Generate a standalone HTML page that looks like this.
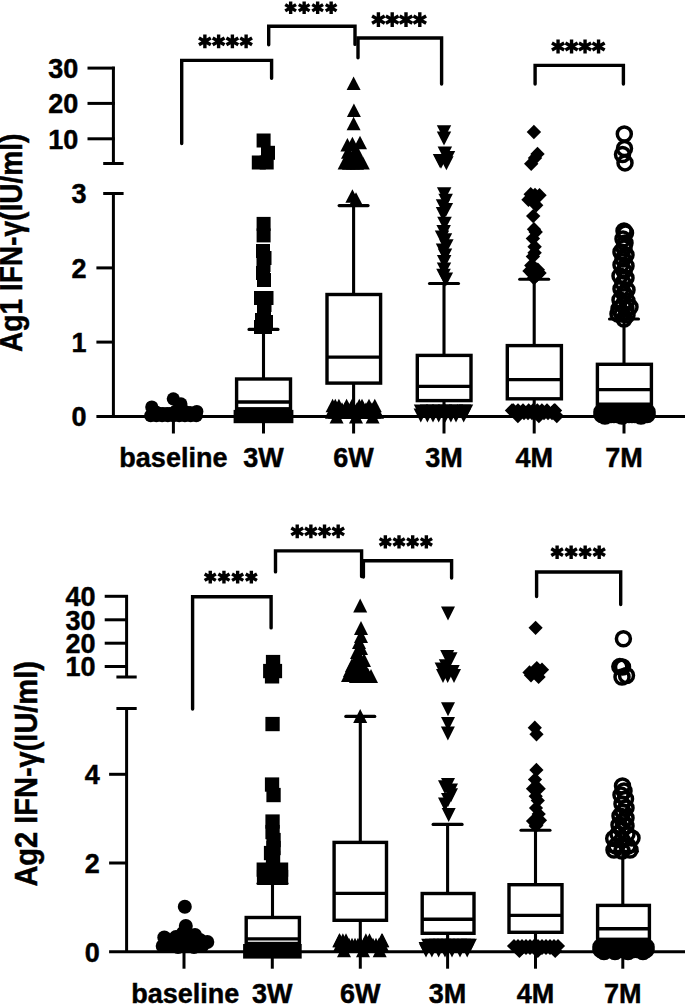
<!DOCTYPE html>
<html><head><meta charset="utf-8"><style>
html,body{margin:0;padding:0;background:#fff;}
svg{display:block;}
text{font-family:"Liberation Sans",sans-serif;font-weight:bold;fill:#000;stroke:#000;stroke-width:0.45px;}
line,path,rect{stroke:#000;}
.m{fill:#000;stroke:none;}
.o{fill:none;stroke:#000;stroke-width:3.5;}
</style></head><body>
<svg width="685" height="1004" viewBox="0 0 685 1004">
<g id="A">
<line x1="113.4" y1="193.5" x2="113.4" y2="418.0" stroke-width="3.0" stroke-linecap="butt"/>
<line x1="103.2" y1="193.5" x2="123.6" y2="193.5" stroke-width="3.0" stroke-linecap="butt"/>
<line x1="96.4" y1="267.9" x2="113.4" y2="267.9" stroke-width="3.0" stroke-linecap="butt"/>
<line x1="96.4" y1="342.1" x2="113.4" y2="342.1" stroke-width="3.0" stroke-linecap="butt"/>
<line x1="96.4" y1="416.6" x2="685.0" y2="416.6" stroke-width="3.0" stroke-linecap="butt"/>
<line x1="113.4" y1="66.7" x2="113.4" y2="163.5" stroke-width="3.0" stroke-linecap="butt"/>
<line x1="103.2" y1="163.5" x2="123.6" y2="163.5" stroke-width="3.0" stroke-linecap="butt"/>
<line x1="87.5" y1="68.1" x2="114.8" y2="68.1" stroke-width="3.0" stroke-linecap="butt"/>
<line x1="87.5" y1="103.4" x2="114.8" y2="103.4" stroke-width="3.0" stroke-linecap="butt"/>
<line x1="87.5" y1="138.8" x2="114.8" y2="138.8" stroke-width="3.0" stroke-linecap="butt"/>
<text x="86.6" y="203.3" font-size="27" text-anchor="end" >3</text>
<text x="86.6" y="277.7" font-size="27" text-anchor="end" >2</text>
<text x="86.6" y="351.9" font-size="27" text-anchor="end" >1</text>
<text x="86.6" y="426.4" font-size="27" text-anchor="end" >0</text>
<text x="78.2" y="77.9" font-size="27" text-anchor="end" >30</text>
<text x="78.2" y="113.2" font-size="27" text-anchor="end" >20</text>
<text x="78.2" y="148.6" font-size="27" text-anchor="end" >10</text>
<text x="0" y="0" font-size="28.1" text-anchor="start" transform="translate(22.3 352.0) rotate(-90) scale(1 1.09)">Ag1 IFN-γ(IU/ml)</text>
<line x1="173.4" y1="416.6" x2="173.4" y2="433.5" stroke-width="3.0" stroke-linecap="butt"/>
<line x1="263.5" y1="416.6" x2="263.5" y2="433.5" stroke-width="3.0" stroke-linecap="butt"/>
<line x1="353.6" y1="416.6" x2="353.6" y2="433.5" stroke-width="3.0" stroke-linecap="butt"/>
<line x1="444.0" y1="416.6" x2="444.0" y2="433.5" stroke-width="3.0" stroke-linecap="butt"/>
<line x1="534.2" y1="416.6" x2="534.2" y2="433.5" stroke-width="3.0" stroke-linecap="butt"/>
<line x1="624.0" y1="416.6" x2="624.0" y2="433.5" stroke-width="3.0" stroke-linecap="butt"/>
<text x="173.4" y="467.2" font-size="27" text-anchor="middle" >baseline</text>
<text x="263.5" y="467.2" font-size="27" text-anchor="middle" >3W</text>
<text x="353.6" y="467.2" font-size="27" text-anchor="middle" >6W</text>
<text x="444.0" y="467.2" font-size="27" text-anchor="middle" >3M</text>
<text x="534.2" y="467.2" font-size="27" text-anchor="middle" >4M</text>
<text x="624.0" y="467.2" font-size="27" text-anchor="middle" >7M</text>
<path d="M181.7 143.5V60.4H271.6V78.2" fill="none" stroke-width="3.4" stroke-linecap="round"/>
<path d="M268.7 44.7V26.3H355V44.4" fill="none" stroke-width="3.4" stroke-linecap="round"/>
<path d="M358 57.8V38H441.6V84" fill="none" stroke-width="3.4" stroke-linecap="round"/>
<path d="M535.1 84V65.4H623.4V84" fill="none" stroke-width="3.4" stroke-linecap="round"/>
<path d="M204.88 34.50L204.88 48.20M198.94 37.93L210.81 44.77M210.81 37.93L198.94 44.77" fill="none" stroke-width="3.4"/>
<path d="M218.62 34.50L218.62 48.20M212.69 37.93L224.56 44.77M224.56 37.93L212.69 44.77" fill="none" stroke-width="3.4"/>
<path d="M232.38 34.50L232.38 48.20M226.44 37.93L238.31 44.77M238.31 37.93L226.44 44.77" fill="none" stroke-width="3.4"/>
<path d="M246.12 34.50L246.12 48.20M240.19 37.93L252.06 44.77M252.06 37.93L240.19 44.77" fill="none" stroke-width="3.4"/>
<path d="M290.65 1.50L290.65 14.00M285.24 4.62L296.06 10.88M296.06 4.62L285.24 10.88" fill="none" stroke-width="3.4"/>
<path d="M304.15 1.50L304.15 14.00M298.74 4.62L309.56 10.88M309.56 4.62L298.74 10.88" fill="none" stroke-width="3.4"/>
<path d="M317.65 1.50L317.65 14.00M312.24 4.62L323.06 10.88M323.06 4.62L312.24 10.88" fill="none" stroke-width="3.4"/>
<path d="M331.15 1.50L331.15 14.00M325.74 4.62L336.56 10.88M336.56 4.62L325.74 10.88" fill="none" stroke-width="3.4"/>
<path d="M378.40 12.30L378.40 26.90M372.08 15.95L384.72 23.25M384.72 15.95L372.08 23.25" fill="none" stroke-width="3.4"/>
<path d="M392.20 12.30L392.20 26.90M385.88 15.95L398.52 23.25M398.52 15.95L385.88 23.25" fill="none" stroke-width="3.4"/>
<path d="M406.00 12.30L406.00 26.90M399.68 15.95L412.32 23.25M412.32 15.95L399.68 23.25" fill="none" stroke-width="3.4"/>
<path d="M419.80 12.30L419.80 26.90M413.48 15.95L426.12 23.25M426.12 15.95L413.48 23.25" fill="none" stroke-width="3.4"/>
<path d="M558.05 39.40L558.05 53.50M551.94 42.93L564.16 49.98M564.16 42.93L551.94 49.98" fill="none" stroke-width="3.4"/>
<path d="M571.55 39.40L571.55 53.50M565.44 42.93L577.66 49.98M577.66 42.93L565.44 49.98" fill="none" stroke-width="3.4"/>
<path d="M585.05 39.40L585.05 53.50M578.94 42.93L591.16 49.98M591.16 42.93L578.94 49.98" fill="none" stroke-width="3.4"/>
<path d="M598.55 39.40L598.55 53.50M592.44 42.93L604.66 49.98M604.66 42.93L592.44 49.98" fill="none" stroke-width="3.4"/>
<line x1="263.5" y1="329.4" x2="263.5" y2="379.0" stroke-width="3.1" stroke-linecap="butt"/>
<line x1="263.5" y1="408.8" x2="263.5" y2="416.6" stroke-width="3.1" stroke-linecap="butt"/>
<line x1="249.0" y1="329.4" x2="278.0" y2="329.4" stroke-width="3.1" stroke-linecap="round"/>
<rect x="236.6" y="379.0" width="53.9" height="29.8" fill="#fff" stroke-width="3.4"/>
<line x1="236.6" y1="402.0" x2="290.5" y2="402.0" stroke-width="3.4" stroke-linecap="butt"/>
<line x1="353.6" y1="205.6" x2="353.6" y2="294.5" stroke-width="3.1" stroke-linecap="butt"/>
<line x1="353.6" y1="383.1" x2="353.6" y2="416.6" stroke-width="3.1" stroke-linecap="butt"/>
<line x1="339.1" y1="205.6" x2="368.1" y2="205.6" stroke-width="3.1" stroke-linecap="round"/>
<rect x="327.0" y="294.5" width="53.6" height="88.6" fill="#fff" stroke-width="3.4"/>
<line x1="327.0" y1="357.1" x2="380.6" y2="357.1" stroke-width="3.4" stroke-linecap="butt"/>
<line x1="444.0" y1="283.5" x2="444.0" y2="355.4" stroke-width="3.1" stroke-linecap="butt"/>
<line x1="444.0" y1="400.6" x2="444.0" y2="416.6" stroke-width="3.1" stroke-linecap="butt"/>
<line x1="429.5" y1="283.5" x2="458.5" y2="283.5" stroke-width="3.1" stroke-linecap="round"/>
<rect x="417.3" y="355.4" width="53.7" height="45.2" fill="#fff" stroke-width="3.4"/>
<line x1="417.3" y1="386.4" x2="471.0" y2="386.4" stroke-width="3.4" stroke-linecap="butt"/>
<line x1="534.2" y1="279.3" x2="534.2" y2="345.6" stroke-width="3.1" stroke-linecap="butt"/>
<line x1="534.2" y1="398.8" x2="534.2" y2="416.6" stroke-width="3.1" stroke-linecap="butt"/>
<line x1="519.7" y1="279.3" x2="548.7" y2="279.3" stroke-width="3.1" stroke-linecap="round"/>
<rect x="507.3" y="345.6" width="54.1" height="53.2" fill="#fff" stroke-width="3.4"/>
<line x1="507.3" y1="379.6" x2="561.4" y2="379.6" stroke-width="3.4" stroke-linecap="butt"/>
<line x1="624.0" y1="319.0" x2="624.0" y2="364.3" stroke-width="3.1" stroke-linecap="butt"/>
<line x1="624.0" y1="404.2" x2="624.0" y2="416.6" stroke-width="3.1" stroke-linecap="butt"/>
<line x1="609.5" y1="319.0" x2="638.5" y2="319.0" stroke-width="3.1" stroke-linecap="round"/>
<rect x="597.4" y="364.3" width="54.0" height="39.9" fill="#fff" stroke-width="3.4"/>
<line x1="597.4" y1="389.6" x2="651.4" y2="389.6" stroke-width="3.4" stroke-linecap="butt"/>
<circle class="m" cx="173.3" cy="398.8" r="6.6"/>
<circle class="m" cx="180.9" cy="403.9" r="6.6"/>
<circle class="m" cx="151.8" cy="407.0" r="6.6"/>
<circle class="m" cx="196.8" cy="411.5" r="6.6"/>
<circle class="m" cx="160.0" cy="413.5" r="6.6"/>
<circle class="m" cx="167.0" cy="413.5" r="6.6"/>
<circle class="m" cx="188.0" cy="413.0" r="6.6"/>
<circle class="m" cx="156.0" cy="412.0" r="6.6"/>
<circle class="m" cx="163.0" cy="413.5" r="6.6"/>
<circle class="m" cx="170.0" cy="413.5" r="6.6"/>
<circle class="m" cx="176.0" cy="411.0" r="6.6"/>
<circle class="m" cx="184.0" cy="411.0" r="6.6"/>
<circle class="m" cx="190.0" cy="412.5" r="6.6"/>
<circle class="m" cx="150.7" cy="415.7" r="6.6"/>
<circle class="m" cx="156.4" cy="415.7" r="6.6"/>
<circle class="m" cx="162.1" cy="415.7" r="6.6"/>
<circle class="m" cx="167.8" cy="415.7" r="6.6"/>
<circle class="m" cx="173.5" cy="415.7" r="6.6"/>
<circle class="m" cx="179.2" cy="415.7" r="6.6"/>
<circle class="m" cx="184.9" cy="415.7" r="6.6"/>
<circle class="m" cx="190.6" cy="415.7" r="6.6"/>
<circle class="m" cx="196.3" cy="415.7" r="6.6"/>
<rect class="m" x="256.6" y="133.5" width="14" height="14"/>
<rect class="m" x="261.0" y="145.8" width="14" height="14"/>
<rect class="m" x="251.8" y="155.5" width="14" height="14"/>
<rect class="m" x="259.7" y="155.5" width="14" height="14"/>
<rect class="m" x="256.6" y="216.9" width="14" height="14"/>
<rect class="m" x="256.6" y="228.4" width="14" height="14"/>
<rect class="m" x="256.0" y="244.0" width="14" height="14"/>
<rect class="m" x="257.5" y="251.0" width="14" height="14"/>
<rect class="m" x="256.5" y="258.0" width="14" height="14"/>
<rect class="m" x="256.0" y="266.0" width="14" height="14"/>
<rect class="m" x="257.0" y="273.0" width="14" height="14"/>
<rect class="m" x="254.0" y="291.0" width="14" height="14"/>
<rect class="m" x="259.5" y="291.0" width="14" height="14"/>
<rect class="m" x="257.5" y="298.0" width="14" height="14"/>
<rect class="m" x="257.0" y="305.0" width="14" height="14"/>
<rect class="m" x="255.0" y="313.0" width="14" height="14"/>
<rect class="m" x="259.0" y="315.0" width="14" height="14"/>
<rect class="m" x="254.0" y="320.0" width="14" height="14"/>
<rect class="m" x="258.0" y="320.0" width="14" height="14"/>
<rect class="m" x="233.6" y="409.9" width="59.8" height="13.3"/>
<path class="m" d="M353.6 76.5L360.6 90.0L346.6 90.0Z"/>
<path class="m" d="M353.9 103.5L360.9 117.0L346.9 117.0Z"/>
<path class="m" d="M353.6 116.8L360.6 130.2L346.6 130.2Z"/>
<path class="m" d="M347.4 137.9L354.4 151.4L340.4 151.4Z"/>
<path class="m" d="M352.4 136.7L359.4 150.2L345.4 150.2Z"/>
<path class="m" d="M360.0 135.8L367.0 149.2L353.0 149.2Z"/>
<path class="m" d="M356.0 143.2L363.0 156.8L349.0 156.8Z"/>
<path class="m" d="M344.6 155.9L351.6 169.4L337.6 169.4Z"/>
<path class="m" d="M353.0 155.9L360.0 169.4L346.0 169.4Z"/>
<path class="m" d="M362.8 155.9L369.8 169.4L355.8 169.4Z"/>
<path class="m" d="M350.0 149.2L357.0 162.8L343.0 162.8Z"/>
<path class="m" d="M358.0 149.2L365.0 162.8L351.0 162.8Z"/>
<path class="m" d="M348.0 145.2L355.0 158.8L341.0 158.8Z"/>
<path class="m" d="M356.0 145.2L363.0 158.8L349.0 158.8Z"/>
<path class="m" d="M352.0 151.2L359.0 164.8L345.0 164.8Z"/>
<path class="m" d="M349.0 156.2L356.0 169.8L342.0 169.8Z"/>
<path class="m" d="M357.0 156.2L364.0 169.8L350.0 169.8Z"/>
<path class="m" d="M352.4 189.2L359.4 202.8L345.4 202.8Z"/>
<path class="m" d="M356.0 192.2L363.0 205.8L349.0 205.8Z"/>
<path class="m" d="M332.6 398.8L339.6 412.2L325.6 412.2Z"/>
<path class="m" d="M335.3 398.8L342.3 412.2L328.3 412.2Z"/>
<path class="m" d="M338.9 398.8L345.9 412.2L331.9 412.2Z"/>
<path class="m" d="M346.6 398.8L353.6 412.2L339.6 412.2Z"/>
<path class="m" d="M352.0 398.8L359.0 412.2L345.0 412.2Z"/>
<path class="m" d="M359.3 398.8L366.3 412.2L352.3 412.2Z"/>
<path class="m" d="M362.0 398.8L369.0 412.2L355.0 412.2Z"/>
<path class="m" d="M369.0 398.8L376.0 412.2L362.0 412.2Z"/>
<path class="m" d="M374.8 398.8L381.8 412.2L367.8 412.2Z"/>
<path class="m" d="M333.0 402.2L340.0 415.8L326.0 415.8Z"/>
<path class="m" d="M336.0 402.2L343.0 415.8L329.0 415.8Z"/>
<path class="m" d="M339.0 402.2L346.0 415.8L332.0 415.8Z"/>
<path class="m" d="M342.0 402.2L349.0 415.8L335.0 415.8Z"/>
<path class="m" d="M345.0 402.2L352.0 415.8L338.0 415.8Z"/>
<path class="m" d="M348.0 402.2L355.0 415.8L341.0 415.8Z"/>
<path class="m" d="M351.0 402.2L358.0 415.8L344.0 415.8Z"/>
<path class="m" d="M354.0 402.2L361.0 415.8L347.0 415.8Z"/>
<path class="m" d="M357.0 402.2L364.0 415.8L350.0 415.8Z"/>
<path class="m" d="M360.0 402.2L367.0 415.8L353.0 415.8Z"/>
<path class="m" d="M363.0 402.2L370.0 415.8L356.0 415.8Z"/>
<path class="m" d="M366.0 402.2L373.0 415.8L359.0 415.8Z"/>
<path class="m" d="M369.0 402.2L376.0 415.8L362.0 415.8Z"/>
<path class="m" d="M372.0 402.2L379.0 415.8L365.0 415.8Z"/>
<path class="m" d="M375.0 402.2L382.0 415.8L368.0 415.8Z"/>
<path class="m" d="M332.0 405.2L339.0 418.8L325.0 418.8Z"/>
<path class="m" d="M335.0 405.2L342.0 418.8L328.0 418.8Z"/>
<path class="m" d="M338.0 405.2L345.0 418.8L331.0 418.8Z"/>
<path class="m" d="M341.0 405.2L348.0 418.8L334.0 418.8Z"/>
<path class="m" d="M344.0 405.2L351.0 418.8L337.0 418.8Z"/>
<path class="m" d="M347.0 405.2L354.0 418.8L340.0 418.8Z"/>
<path class="m" d="M350.0 405.2L357.0 418.8L343.0 418.8Z"/>
<path class="m" d="M353.0 405.2L360.0 418.8L346.0 418.8Z"/>
<path class="m" d="M356.0 405.2L363.0 418.8L349.0 418.8Z"/>
<path class="m" d="M359.0 405.2L366.0 418.8L352.0 418.8Z"/>
<path class="m" d="M362.0 405.2L369.0 418.8L355.0 418.8Z"/>
<path class="m" d="M365.0 405.2L372.0 418.8L358.0 418.8Z"/>
<path class="m" d="M368.0 405.2L375.0 418.8L361.0 418.8Z"/>
<path class="m" d="M371.0 405.2L378.0 418.8L364.0 418.8Z"/>
<path class="m" d="M374.0 405.2L381.0 418.8L367.0 418.8Z"/>
<path class="m" d="M377.0 405.2L384.0 418.8L370.0 418.8Z"/>
<path class="m" d="M336.6 409.9L343.6 423.4L329.6 423.4Z"/>
<path class="m" d="M356.0 409.9L363.0 423.4L349.0 423.4Z"/>
<path class="m" d="M372.6 409.9L379.6 423.4L365.6 423.4Z"/>
<path class="m" d="M436.8 125.3L451.2 125.3L444.0 139.3Z"/>
<path class="m" d="M436.8 131.5L451.2 131.5L444.0 145.5Z"/>
<path class="m" d="M437.6 146.4L452.1 146.4L444.8 160.4Z"/>
<path class="m" d="M440.8 151.0L455.2 151.0L448.0 165.0Z"/>
<path class="m" d="M432.8 154.0L447.2 154.0L440.0 168.0Z"/>
<path class="m" d="M433.8 154.8L448.2 154.8L441.0 168.8Z"/>
<path class="m" d="M439.1 156.2L453.6 156.2L446.4 170.2Z"/>
<path class="m" d="M436.9 187.2L451.4 187.2L444.2 201.2Z"/>
<path class="m" d="M438.4 193.7L452.9 193.7L445.6 207.7Z"/>
<path class="m" d="M435.8 199.2L450.2 199.2L443.0 213.2Z"/>
<path class="m" d="M438.6 203.0L453.1 203.0L445.8 217.0Z"/>
<path class="m" d="M435.8 206.9L450.2 206.9L443.0 220.9Z"/>
<path class="m" d="M437.2 216.7L451.8 216.7L444.5 230.7Z"/>
<path class="m" d="M436.4 224.9L450.9 224.9L443.7 238.9Z"/>
<path class="m" d="M434.8 230.4L449.2 230.4L442.0 244.4Z"/>
<path class="m" d="M437.8 233.2L452.2 233.2L445.0 247.2Z"/>
<path class="m" d="M439.1 239.2L453.6 239.2L446.3 253.2Z"/>
<path class="m" d="M435.8 243.5L450.2 243.5L443.0 257.5Z"/>
<path class="m" d="M437.8 248.5L452.2 248.5L445.0 262.5Z"/>
<path class="m" d="M436.9 255.0L451.4 255.0L444.2 269.0Z"/>
<path class="m" d="M436.2 268.7L450.8 268.7L443.5 282.7Z"/>
<path class="m" d="M438.6 272.5L453.1 272.5L445.8 286.5Z"/>
<path class="m" d="M436.8 262.5L451.2 262.5L444.0 276.5Z"/>
<path class="m" d="M413.8 404.5L428.2 404.5L421.0 418.5Z"/>
<path class="m" d="M419.8 404.5L434.2 404.5L427.0 418.5Z"/>
<path class="m" d="M425.8 404.5L440.2 404.5L433.0 418.5Z"/>
<path class="m" d="M431.8 404.5L446.2 404.5L439.0 418.5Z"/>
<path class="m" d="M437.8 404.5L452.2 404.5L445.0 418.5Z"/>
<path class="m" d="M443.8 404.5L458.2 404.5L451.0 418.5Z"/>
<path class="m" d="M448.8 404.5L463.2 404.5L456.0 418.5Z"/>
<path class="m" d="M456.8 404.5L471.2 404.5L464.0 418.5Z"/>
<path class="m" d="M458.8 404.5L473.2 404.5L466.0 418.5Z"/>
<path class="m" d="M413.6 408.5L428.1 408.5L420.8 422.5Z"/>
<path class="m" d="M420.1 408.5L434.6 408.5L427.4 422.5Z"/>
<path class="m" d="M425.8 408.5L440.2 408.5L433.0 422.5Z"/>
<path class="m" d="M431.4 408.5L445.9 408.5L438.7 422.5Z"/>
<path class="m" d="M438.1 408.5L452.6 408.5L445.3 422.5Z"/>
<path class="m" d="M443.6 408.5L458.1 408.5L450.9 422.5Z"/>
<path class="m" d="M448.8 408.5L463.2 408.5L456.0 422.5Z"/>
<path class="m" d="M456.4 408.5L470.9 408.5L463.7 422.5Z"/>
<path class="m" d="M533.9 124.8L541.1 132.0L533.9 139.2L526.7 132.0Z"/>
<path class="m" d="M537.5 146.7L544.7 153.9L537.5 161.1L530.3 153.9Z"/>
<path class="m" d="M531.2 156.6L538.4 163.8L531.2 171.0L524.0 163.8Z"/>
<path class="m" d="M535.0 150.8L542.2 158.0L535.0 165.2L527.8 158.0Z"/>
<path class="m" d="M530.7 187.0L537.9 194.2L530.7 201.4L523.5 194.2Z"/>
<path class="m" d="M539.5 188.1L546.7 195.3L539.5 202.5L532.3 195.3Z"/>
<path class="m" d="M528.5 192.5L535.7 199.7L528.5 206.9L521.3 199.7Z"/>
<path class="m" d="M536.2 198.0L543.4 205.2L536.2 212.4L529.0 205.2Z"/>
<path class="m" d="M533.2 208.9L540.4 216.1L533.2 223.3L526.0 216.1Z"/>
<path class="m" d="M534.0 222.1L541.2 229.3L534.0 236.5L526.8 229.3Z"/>
<path class="m" d="M535.7 224.8L542.9 232.0L535.7 239.2L528.5 232.0Z"/>
<path class="m" d="M532.9 231.4L540.1 238.6L532.9 245.8L525.7 238.6Z"/>
<path class="m" d="M534.6 239.6L541.8 246.8L534.6 254.0L527.4 246.8Z"/>
<path class="m" d="M534.6 245.6L541.8 252.8L534.6 260.0L527.4 252.8Z"/>
<path class="m" d="M532.9 249.4L540.1 256.6L532.9 263.8L525.7 256.6Z"/>
<path class="m" d="M531.3 258.2L538.5 265.4L531.3 272.6L524.1 265.4Z"/>
<path class="m" d="M534.5 260.4L541.7 267.6L534.5 274.8L527.3 267.6Z"/>
<path class="m" d="M537.8 262.6L545.0 269.8L537.8 277.0L530.6 269.8Z"/>
<path class="m" d="M533.0 267.0L540.2 274.2L533.0 281.4L525.8 274.2Z"/>
<path class="m" d="M536.7 268.1L543.9 275.3L536.7 282.5L529.5 275.3Z"/>
<path class="m" d="M529.5 263.8L536.7 271.0L529.5 278.2L522.3 271.0Z"/>
<path class="m" d="M539.5 265.8L546.7 273.0L539.5 280.2L532.3 273.0Z"/>
<path class="m" d="M534.0 270.8L541.2 278.0L534.0 285.2L526.8 278.0Z"/>
<path class="m" d="M534.0 191.8L541.2 199.0L534.0 206.2L526.8 199.0Z"/>
<path class="m" d="M535.0 187.8L542.2 195.0L535.0 202.2L527.8 195.0Z"/>
<path class="m" d="M512.0 403.3L519.2 410.5L512.0 417.7L504.8 410.5Z"/>
<path class="m" d="M513.3 403.3L520.5 410.5L513.3 417.7L506.1 410.5Z"/>
<path class="m" d="M518.0 403.3L525.2 410.5L518.0 417.7L510.8 410.5Z"/>
<path class="m" d="M523.0 403.3L530.2 410.5L523.0 417.7L515.8 410.5Z"/>
<path class="m" d="M528.7 403.3L535.9 410.5L528.7 417.7L521.5 410.5Z"/>
<path class="m" d="M533.0 403.3L540.2 410.5L533.0 417.7L525.8 410.5Z"/>
<path class="m" d="M537.3 403.3L544.5 410.5L537.3 417.7L530.1 410.5Z"/>
<path class="m" d="M541.9 403.3L549.1 410.5L541.9 417.7L534.7 410.5Z"/>
<path class="m" d="M547.0 403.3L554.2 410.5L547.0 417.7L539.8 410.5Z"/>
<path class="m" d="M554.2 403.3L561.4 410.5L554.2 417.7L547.0 410.5Z"/>
<path class="m" d="M555.0 403.3L562.2 410.5L555.0 417.7L547.8 410.5Z"/>
<path class="m" d="M516.0 405.8L523.2 413.0L516.0 420.2L508.8 413.0Z"/>
<path class="m" d="M520.0 405.8L527.2 413.0L520.0 420.2L512.8 413.0Z"/>
<path class="m" d="M524.0 405.8L531.2 413.0L524.0 420.2L516.8 413.0Z"/>
<path class="m" d="M528.0 405.8L535.2 413.0L528.0 420.2L520.8 413.0Z"/>
<path class="m" d="M532.0 405.8L539.2 413.0L532.0 420.2L524.8 413.0Z"/>
<path class="m" d="M536.0 405.8L543.2 413.0L536.0 420.2L528.8 413.0Z"/>
<path class="m" d="M540.0 405.8L547.2 413.0L540.0 420.2L532.8 413.0Z"/>
<path class="m" d="M544.0 405.8L551.2 413.0L544.0 420.2L536.8 413.0Z"/>
<path class="m" d="M548.0 405.8L555.2 413.0L548.0 420.2L540.8 413.0Z"/>
<path class="m" d="M552.0 405.8L559.2 413.0L552.0 420.2L544.8 413.0Z"/>
<path class="m" d="M517.9 408.8L525.1 416.0L517.9 423.2L510.7 416.0Z"/>
<path class="m" d="M538.9 408.8L546.1 416.0L538.9 423.2L531.7 416.0Z"/>
<path class="m" d="M556.8 408.8L564.0 416.0L556.8 423.2L549.6 416.0Z"/>
<circle class="o" cx="624.3" cy="134.0" r="7.0"/>
<circle class="o" cx="624.5" cy="148.5" r="7.0"/>
<circle class="o" cx="622.5" cy="154.5" r="7.0"/>
<circle class="o" cx="625.0" cy="162.9" r="7.0"/>
<circle class="o" cx="624.0" cy="231.0" r="7.0"/>
<circle class="o" cx="625.5" cy="233.0" r="7.0"/>
<circle class="o" cx="623.0" cy="239.0" r="7.0"/>
<circle class="o" cx="625.0" cy="243.0" r="7.0"/>
<circle class="o" cx="624.0" cy="248.0" r="7.0"/>
<circle class="o" cx="621.0" cy="252.0" r="7.0"/>
<circle class="o" cx="626.0" cy="255.0" r="7.0"/>
<circle class="o" cx="623.0" cy="259.0" r="7.0"/>
<circle class="o" cx="621.0" cy="265.0" r="7.0"/>
<circle class="o" cx="626.0" cy="266.0" r="7.0"/>
<circle class="o" cx="624.0" cy="271.0" r="7.0"/>
<circle class="o" cx="620.0" cy="276.0" r="7.0"/>
<circle class="o" cx="626.0" cy="278.0" r="7.0"/>
<circle class="o" cx="623.0" cy="283.0" r="7.0"/>
<circle class="o" cx="621.0" cy="289.0" r="7.0"/>
<circle class="o" cx="627.0" cy="290.0" r="7.0"/>
<circle class="o" cx="624.0" cy="294.0" r="7.0"/>
<circle class="o" cx="620.0" cy="300.0" r="7.0"/>
<circle class="o" cx="627.0" cy="301.0" r="7.0"/>
<circle class="o" cx="623.0" cy="305.0" r="7.0"/>
<circle class="o" cx="619.0" cy="309.0" r="7.0"/>
<circle class="o" cx="626.0" cy="309.0" r="7.0"/>
<circle class="o" cx="630.0" cy="307.0" r="7.0"/>
<circle class="o" cx="622.0" cy="314.0" r="7.0"/>
<circle class="o" cx="627.0" cy="315.0" r="7.0"/>
<circle class="o" cx="624.0" cy="319.0" r="7.0"/>
<circle class="o" cx="618.0" cy="314.0" r="7.0"/>
<circle class="o" cx="602.0" cy="412.0" r="7.0"/>
<circle class="o" cx="602.0" cy="414.5" r="7.0"/>
<circle class="o" cx="605.0" cy="412.0" r="7.0"/>
<circle class="o" cx="605.0" cy="414.5" r="7.0"/>
<circle class="o" cx="608.0" cy="412.0" r="7.0"/>
<circle class="o" cx="608.0" cy="414.5" r="7.0"/>
<circle class="o" cx="611.0" cy="412.0" r="7.0"/>
<circle class="o" cx="611.0" cy="414.5" r="7.0"/>
<circle class="o" cx="614.0" cy="412.0" r="7.0"/>
<circle class="o" cx="614.0" cy="414.5" r="7.0"/>
<circle class="o" cx="617.0" cy="412.0" r="7.0"/>
<circle class="o" cx="617.0" cy="414.5" r="7.0"/>
<circle class="o" cx="620.0" cy="412.0" r="7.0"/>
<circle class="o" cx="620.0" cy="414.5" r="7.0"/>
<circle class="o" cx="623.0" cy="412.0" r="7.0"/>
<circle class="o" cx="623.0" cy="414.5" r="7.0"/>
<circle class="o" cx="626.0" cy="412.0" r="7.0"/>
<circle class="o" cx="626.0" cy="414.5" r="7.0"/>
<circle class="o" cx="629.0" cy="412.0" r="7.0"/>
<circle class="o" cx="629.0" cy="414.5" r="7.0"/>
<circle class="o" cx="632.0" cy="412.0" r="7.0"/>
<circle class="o" cx="632.0" cy="414.5" r="7.0"/>
<circle class="o" cx="635.0" cy="412.0" r="7.0"/>
<circle class="o" cx="635.0" cy="414.5" r="7.0"/>
<circle class="o" cx="638.0" cy="412.0" r="7.0"/>
<circle class="o" cx="638.0" cy="414.5" r="7.0"/>
<circle class="o" cx="641.0" cy="412.0" r="7.0"/>
<circle class="o" cx="641.0" cy="414.5" r="7.0"/>
<circle class="o" cx="644.0" cy="412.0" r="7.0"/>
<circle class="o" cx="644.0" cy="414.5" r="7.0"/>
<circle class="o" cx="647.0" cy="412.0" r="7.0"/>
<circle class="o" cx="647.0" cy="414.5" r="7.0"/>
<circle class="o" cx="605.0" cy="416.0" r="7.0"/>
<circle class="o" cx="622.0" cy="416.0" r="7.0"/>
<circle class="o" cx="641.0" cy="416.0" r="7.0"/>
</g><g id="B">
<line x1="126.6" y1="708.5" x2="126.6" y2="953.0" stroke-width="3.0" stroke-linecap="butt"/>
<line x1="116.4" y1="708.5" x2="136.7" y2="708.5" stroke-width="3.0" stroke-linecap="butt"/>
<line x1="109.1" y1="774.3" x2="126.6" y2="774.3" stroke-width="3.0" stroke-linecap="butt"/>
<line x1="109.1" y1="863.0" x2="126.6" y2="863.0" stroke-width="3.0" stroke-linecap="butt"/>
<line x1="109.1" y1="951.7" x2="685.0" y2="951.7" stroke-width="3.0" stroke-linecap="butt"/>
<line x1="126.6" y1="595.0" x2="126.6" y2="677.0" stroke-width="3.0" stroke-linecap="butt"/>
<line x1="116.4" y1="677.0" x2="136.7" y2="677.0" stroke-width="3.0" stroke-linecap="butt"/>
<line x1="104.7" y1="596.3" x2="128.0" y2="596.3" stroke-width="3.0" stroke-linecap="butt"/>
<line x1="104.7" y1="619.8" x2="128.0" y2="619.8" stroke-width="3.0" stroke-linecap="butt"/>
<line x1="104.7" y1="643.2" x2="128.0" y2="643.2" stroke-width="3.0" stroke-linecap="butt"/>
<line x1="104.7" y1="666.5" x2="128.0" y2="666.5" stroke-width="3.0" stroke-linecap="butt"/>
<text x="99.9" y="784.1" font-size="27" text-anchor="end" >4</text>
<text x="99.9" y="872.8" font-size="27" text-anchor="end" >2</text>
<text x="99.9" y="961.5" font-size="27" text-anchor="end" >0</text>
<text x="95.6" y="606.1" font-size="27" text-anchor="end" >40</text>
<text x="95.6" y="629.6" font-size="27" text-anchor="end" >30</text>
<text x="95.6" y="653.0" font-size="27" text-anchor="end" >20</text>
<text x="95.6" y="676.3" font-size="27" text-anchor="end" >10</text>
<text x="0" y="0" font-size="29.0" text-anchor="start" transform="translate(36.8 886.6) rotate(-90) scale(1 1.1)">Ag2 IFN-γ(IU/ml)</text>
<line x1="184.0" y1="951.7" x2="184.0" y2="968.7" stroke-width="3.0" stroke-linecap="butt"/>
<line x1="272.3" y1="951.7" x2="272.3" y2="968.7" stroke-width="3.0" stroke-linecap="butt"/>
<line x1="360.3" y1="951.7" x2="360.3" y2="968.7" stroke-width="3.0" stroke-linecap="butt"/>
<line x1="447.6" y1="951.7" x2="447.6" y2="968.7" stroke-width="3.0" stroke-linecap="butt"/>
<line x1="535.5" y1="951.7" x2="535.5" y2="968.7" stroke-width="3.0" stroke-linecap="butt"/>
<line x1="622.8" y1="951.7" x2="622.8" y2="968.7" stroke-width="3.0" stroke-linecap="butt"/>
<text x="185.3" y="1003.0" font-size="27" text-anchor="middle" >baseline</text>
<text x="272.3" y="1003.0" font-size="27" text-anchor="middle" >3W</text>
<text x="360.3" y="1003.0" font-size="27" text-anchor="middle" >6W</text>
<text x="447.6" y="1003.0" font-size="27" text-anchor="middle" >3M</text>
<text x="535.5" y="1003.0" font-size="27" text-anchor="middle" >4M</text>
<text x="622.8" y="1003.0" font-size="27" text-anchor="middle" >7M</text>
<path d="M192.6 709V596.7H271.1V627.9" fill="none" stroke-width="3.4" stroke-linecap="round"/>
<path d="M275.5 571.9V550.9H361.6V576.6" fill="none" stroke-width="3.4" stroke-linecap="round"/>
<path d="M363.4 577V560.7H451.6V578" fill="none" stroke-width="3.4" stroke-linecap="round"/>
<path d="M536.6 596.6V572H620.7V604.5" fill="none" stroke-width="3.4" stroke-linecap="round"/>
<path d="M210.25 570.70L210.25 583.60M204.66 573.93L215.84 580.38M215.84 573.93L204.66 580.38" fill="none" stroke-width="3.4"/>
<path d="M223.95 570.70L223.95 583.60M218.36 573.93L229.54 580.38M229.54 573.93L218.36 580.38" fill="none" stroke-width="3.4"/>
<path d="M237.65 570.70L237.65 583.60M232.06 573.93L243.24 580.38M243.24 573.93L232.06 580.38" fill="none" stroke-width="3.4"/>
<path d="M251.35 570.70L251.35 583.60M245.76 573.93L256.94 580.38M256.94 573.93L245.76 580.38" fill="none" stroke-width="3.4"/>
<path d="M297.22 524.60L297.22 538.30M291.29 528.03L303.16 534.88M303.16 528.03L291.29 534.88" fill="none" stroke-width="3.4"/>
<path d="M310.88 524.60L310.88 538.30M304.94 528.03L316.81 534.88M316.81 528.03L304.94 534.88" fill="none" stroke-width="3.4"/>
<path d="M324.52 524.60L324.52 538.30M318.59 528.03L330.46 534.88M330.46 528.03L318.59 534.88" fill="none" stroke-width="3.4"/>
<path d="M338.18 524.60L338.18 538.30M332.24 528.03L344.11 534.88M344.11 528.03L332.24 534.88" fill="none" stroke-width="3.4"/>
<path d="M385.34 535.30L385.34 548.50M379.62 538.60L391.05 545.20M391.05 538.60L379.62 545.20" fill="none" stroke-width="3.4"/>
<path d="M399.01 535.30L399.01 548.50M393.30 538.60L404.73 545.20M404.73 538.60L393.30 545.20" fill="none" stroke-width="3.4"/>
<path d="M412.69 535.30L412.69 548.50M406.97 538.60L418.40 545.20M418.40 538.60L406.97 545.20" fill="none" stroke-width="3.4"/>
<path d="M426.36 535.30L426.36 548.50M420.65 538.60L432.08 545.20M432.08 538.60L420.65 545.20" fill="none" stroke-width="3.4"/>
<path d="M557.11 545.40L557.11 558.90M551.27 548.77L562.96 555.52M562.96 548.77L551.27 555.52" fill="none" stroke-width="3.4"/>
<path d="M571.14 545.40L571.14 558.90M565.29 548.77L576.98 555.52M576.98 548.77L565.29 555.52" fill="none" stroke-width="3.4"/>
<path d="M585.16 545.40L585.16 558.90M579.32 548.77L591.01 555.52M591.01 548.77L579.32 555.52" fill="none" stroke-width="3.4"/>
<path d="M599.19 545.40L599.19 558.90M593.34 548.77L605.03 555.52M605.03 548.77L593.34 555.52" fill="none" stroke-width="3.4"/>
<line x1="272.5" y1="883.5" x2="272.5" y2="917.5" stroke-width="3.1" stroke-linecap="butt"/>
<line x1="272.5" y1="943.5" x2="272.5" y2="951.7" stroke-width="3.1" stroke-linecap="butt"/>
<line x1="258.0" y1="883.5" x2="287.0" y2="883.5" stroke-width="3.1" stroke-linecap="round"/>
<rect x="246.2" y="917.5" width="53.2" height="26.0" fill="#fff" stroke-width="3.4"/>
<line x1="246.2" y1="938.9" x2="299.4" y2="938.9" stroke-width="3.4" stroke-linecap="butt"/>
<line x1="360.3" y1="716.4" x2="360.3" y2="842.4" stroke-width="3.1" stroke-linecap="butt"/>
<line x1="360.3" y1="920.3" x2="360.3" y2="951.7" stroke-width="3.1" stroke-linecap="butt"/>
<line x1="345.8" y1="716.4" x2="374.8" y2="716.4" stroke-width="3.1" stroke-linecap="round"/>
<rect x="334.1" y="842.4" width="52.4" height="77.9" fill="#fff" stroke-width="3.4"/>
<line x1="334.1" y1="893.4" x2="386.5" y2="893.4" stroke-width="3.4" stroke-linecap="butt"/>
<line x1="447.6" y1="824.4" x2="447.6" y2="893.5" stroke-width="3.1" stroke-linecap="butt"/>
<line x1="447.6" y1="933.3" x2="447.6" y2="951.7" stroke-width="3.1" stroke-linecap="butt"/>
<line x1="433.1" y1="824.4" x2="462.1" y2="824.4" stroke-width="3.1" stroke-linecap="round"/>
<rect x="422.2" y="893.5" width="51.8" height="39.8" fill="#fff" stroke-width="3.4"/>
<line x1="422.2" y1="919.3" x2="474.0" y2="919.3" stroke-width="3.4" stroke-linecap="butt"/>
<line x1="535.5" y1="830.2" x2="535.5" y2="884.7" stroke-width="3.1" stroke-linecap="butt"/>
<line x1="535.5" y1="932.3" x2="535.5" y2="951.7" stroke-width="3.1" stroke-linecap="butt"/>
<line x1="521.0" y1="830.2" x2="550.0" y2="830.2" stroke-width="3.1" stroke-linecap="round"/>
<rect x="509.0" y="884.7" width="53.0" height="47.6" fill="#fff" stroke-width="3.4"/>
<line x1="509.0" y1="915.4" x2="562.0" y2="915.4" stroke-width="3.4" stroke-linecap="butt"/>
<line x1="622.8" y1="851.3" x2="622.8" y2="905.4" stroke-width="3.1" stroke-linecap="butt"/>
<line x1="622.8" y1="939.3" x2="622.8" y2="951.7" stroke-width="3.1" stroke-linecap="butt"/>
<line x1="608.3" y1="851.3" x2="637.3" y2="851.3" stroke-width="3.1" stroke-linecap="round"/>
<rect x="597.6" y="905.4" width="51.8" height="33.9" fill="#fff" stroke-width="3.4"/>
<line x1="597.6" y1="928.7" x2="649.4" y2="928.7" stroke-width="3.4" stroke-linecap="butt"/>
<circle class="m" cx="184.8" cy="906.7" r="7.0"/>
<circle class="m" cx="185.8" cy="926.0" r="7.0"/>
<circle class="m" cx="176.0" cy="937.0" r="7.0"/>
<circle class="m" cx="195.0" cy="935.0" r="7.0"/>
<circle class="m" cx="207.3" cy="942.0" r="7.0"/>
<circle class="m" cx="164.3" cy="937.4" r="7.0"/>
<circle class="m" cx="162.7" cy="946.0" r="7.0"/>
<circle class="m" cx="170.0" cy="946.0" r="7.0"/>
<circle class="m" cx="178.0" cy="947.0" r="7.0"/>
<circle class="m" cx="186.0" cy="946.0" r="7.0"/>
<circle class="m" cx="194.0" cy="947.0" r="7.0"/>
<circle class="m" cx="202.0" cy="946.0" r="7.0"/>
<circle class="m" cx="175.0" cy="941.0" r="7.0"/>
<circle class="m" cx="188.0" cy="938.0" r="7.0"/>
<circle class="m" cx="183.0" cy="933.0" r="7.0"/>
<circle class="m" cx="200.0" cy="940.0" r="7.0"/>
<circle class="m" cx="168.0" cy="940.0" r="7.0"/>
<rect class="m" x="265.9" y="654.9" width="14.3" height="14.3"/>
<rect class="m" x="263.1" y="663.9" width="14.3" height="14.3"/>
<rect class="m" x="267.8" y="663.9" width="14.3" height="14.3"/>
<rect class="m" x="264.9" y="669.2" width="14.3" height="14.3"/>
<rect class="m" x="265.4" y="716.9" width="14.3" height="14.3"/>
<rect class="m" x="264.9" y="777.4" width="14.3" height="14.3"/>
<rect class="m" x="266.4" y="787.9" width="14.3" height="14.3"/>
<rect class="m" x="265.4" y="814.4" width="14.3" height="14.3"/>
<rect class="m" x="265.4" y="824.9" width="14.3" height="14.3"/>
<rect class="m" x="266.4" y="832.9" width="14.3" height="14.3"/>
<rect class="m" x="266.4" y="840.9" width="14.3" height="14.3"/>
<rect class="m" x="263.9" y="845.9" width="14.3" height="14.3"/>
<rect class="m" x="265.9" y="850.9" width="14.3" height="14.3"/>
<rect class="m" x="256.6" y="862.5" width="14.3" height="14.3"/>
<rect class="m" x="273.9" y="862.5" width="14.3" height="14.3"/>
<rect class="m" x="264.9" y="862.9" width="14.3" height="14.3"/>
<rect class="m" x="256.9" y="869.9" width="14.3" height="14.3"/>
<rect class="m" x="273.9" y="869.9" width="14.3" height="14.3"/>
<rect class="m" x="264.9" y="869.9" width="14.3" height="14.3"/>
<rect class="m" x="243.1" y="944.0" width="58.6" height="14.6"/>
<path class="m" d="M360.2 598.5L367.2 612.5L353.2 612.5Z"/>
<path class="m" d="M361.0 621.0L368.0 635.0L354.0 635.0Z"/>
<path class="m" d="M361.0 629.0L368.0 643.0L354.0 643.0Z"/>
<path class="m" d="M359.0 635.0L366.0 649.0L352.0 649.0Z"/>
<path class="m" d="M361.0 641.0L368.0 655.0L354.0 655.0Z"/>
<path class="m" d="M357.0 645.0L364.0 659.0L350.0 659.0Z"/>
<path class="m" d="M360.0 653.0L367.0 667.0L353.0 667.0Z"/>
<path class="m" d="M350.0 663.0L357.0 677.0L343.0 677.0Z"/>
<path class="m" d="M364.0 661.0L371.0 675.0L357.0 675.0Z"/>
<path class="m" d="M348.0 668.0L355.0 682.0L341.0 682.0Z"/>
<path class="m" d="M368.0 668.0L375.0 682.0L361.0 682.0Z"/>
<path class="m" d="M356.0 669.0L363.0 683.0L349.0 683.0Z"/>
<path class="m" d="M362.0 669.0L369.0 683.0L355.0 683.0Z"/>
<path class="m" d="M371.0 669.0L378.0 683.0L364.0 683.0Z"/>
<path class="m" d="M352.0 658.0L359.0 672.0L345.0 672.0Z"/>
<path class="m" d="M356.0 653.0L363.0 667.0L349.0 667.0Z"/>
<path class="m" d="M364.0 653.0L371.0 667.0L357.0 667.0Z"/>
<path class="m" d="M354.0 661.0L361.0 675.0L347.0 675.0Z"/>
<path class="m" d="M360.0 661.0L367.0 675.0L353.0 675.0Z"/>
<path class="m" d="M352.0 665.0L359.0 679.0L345.0 679.0Z"/>
<path class="m" d="M358.0 665.0L365.0 679.0L351.0 679.0Z"/>
<path class="m" d="M366.0 665.0L373.0 679.0L359.0 679.0Z"/>
<path class="m" d="M360.2 709.0L367.2 723.0L353.2 723.0Z"/>
<path class="m" d="M339.3 933.2L346.3 947.2L332.3 947.2Z"/>
<path class="m" d="M342.9 933.2L349.9 947.2L335.9 947.2Z"/>
<path class="m" d="M346.0 933.2L353.0 947.2L339.0 947.2Z"/>
<path class="m" d="M365.9 933.2L372.9 947.2L358.9 947.2Z"/>
<path class="m" d="M369.5 933.2L376.5 947.2L362.5 947.2Z"/>
<path class="m" d="M381.7 933.2L388.7 947.2L374.7 947.2Z"/>
<path class="m" d="M382.4 933.2L389.4 947.2L375.4 947.2Z"/>
<path class="m" d="M339.7 933.2L346.7 947.2L332.7 947.2Z"/>
<path class="m" d="M340.0 937.8L347.0 951.8L333.0 951.8Z"/>
<path class="m" d="M343.0 937.8L350.0 951.8L336.0 951.8Z"/>
<path class="m" d="M346.0 937.8L353.0 951.8L339.0 951.8Z"/>
<path class="m" d="M349.0 937.8L356.0 951.8L342.0 951.8Z"/>
<path class="m" d="M352.0 937.8L359.0 951.8L345.0 951.8Z"/>
<path class="m" d="M355.0 937.8L362.0 951.8L348.0 951.8Z"/>
<path class="m" d="M358.0 937.8L365.0 951.8L351.0 951.8Z"/>
<path class="m" d="M361.0 937.8L368.0 951.8L354.0 951.8Z"/>
<path class="m" d="M364.0 937.8L371.0 951.8L357.0 951.8Z"/>
<path class="m" d="M367.0 937.8L374.0 951.8L360.0 951.8Z"/>
<path class="m" d="M370.0 937.8L377.0 951.8L363.0 951.8Z"/>
<path class="m" d="M373.0 937.8L380.0 951.8L366.0 951.8Z"/>
<path class="m" d="M376.0 937.8L383.0 951.8L369.0 951.8Z"/>
<path class="m" d="M379.0 937.8L386.0 951.8L372.0 951.8Z"/>
<path class="m" d="M382.0 937.8L389.0 951.8L375.0 951.8Z"/>
<path class="m" d="M344.0 943.2L351.0 957.2L337.0 957.2Z"/>
<path class="m" d="M363.0 943.2L370.0 957.2L356.0 957.2Z"/>
<path class="m" d="M379.7 943.2L386.7 957.2L372.7 957.2Z"/>
<path class="m" d="M441.0 606.5L455.0 606.5L448.0 620.5Z"/>
<path class="m" d="M440.2 650.1L454.2 650.1L447.2 664.1Z"/>
<path class="m" d="M443.5 652.3L457.5 652.3L450.5 666.3Z"/>
<path class="m" d="M438.8 659.3L452.8 659.3L445.8 673.3Z"/>
<path class="m" d="M434.6 662.5L448.6 662.5L441.6 676.5Z"/>
<path class="m" d="M445.7 665.0L459.7 665.0L452.7 679.0Z"/>
<path class="m" d="M436.0 669.0L450.0 669.0L443.0 683.0Z"/>
<path class="m" d="M440.7 669.0L454.7 669.0L447.7 683.0Z"/>
<path class="m" d="M447.0 669.0L461.0 669.0L454.0 683.0Z"/>
<path class="m" d="M441.0 702.2L455.0 702.2L448.0 716.2Z"/>
<path class="m" d="M441.0 717.0L455.0 717.0L448.0 731.0Z"/>
<path class="m" d="M440.9 726.5L454.9 726.5L447.9 740.5Z"/>
<path class="m" d="M441.0 778.0L455.0 778.0L448.0 792.0Z"/>
<path class="m" d="M438.0 780.3L452.0 780.3L445.0 794.3Z"/>
<path class="m" d="M444.0 783.4L458.0 783.4L451.0 797.4Z"/>
<path class="m" d="M444.0 788.2L458.0 788.2L451.0 802.2Z"/>
<path class="m" d="M438.0 797.4L452.0 797.4L445.0 811.4Z"/>
<path class="m" d="M441.7 807.9L455.7 807.9L448.7 821.9Z"/>
<path class="m" d="M441.0 793.0L455.0 793.0L448.0 807.0Z"/>
<path class="m" d="M421.2 938.8L435.2 938.8L428.2 952.8Z"/>
<path class="m" d="M425.0 938.8L439.0 938.8L432.0 952.8Z"/>
<path class="m" d="M429.0 938.8L443.0 938.8L436.0 952.8Z"/>
<path class="m" d="M433.0 938.8L447.0 938.8L440.0 952.8Z"/>
<path class="m" d="M437.0 938.8L451.0 938.8L444.0 952.8Z"/>
<path class="m" d="M441.0 938.8L455.0 938.8L448.0 952.8Z"/>
<path class="m" d="M445.0 938.8L459.0 938.8L452.0 952.8Z"/>
<path class="m" d="M449.0 938.8L463.0 938.8L456.0 952.8Z"/>
<path class="m" d="M453.0 938.8L467.0 938.8L460.0 952.8Z"/>
<path class="m" d="M457.0 938.8L471.0 938.8L464.0 952.8Z"/>
<path class="m" d="M461.0 938.8L475.0 938.8L468.0 952.8Z"/>
<path class="m" d="M462.9 938.8L476.9 938.8L469.9 952.8Z"/>
<path class="m" d="M418.6 941.9L432.6 941.9L425.6 955.9Z"/>
<path class="m" d="M419.0 943.5L433.0 943.5L426.0 957.5Z"/>
<path class="m" d="M424.9 943.5L438.9 943.5L431.9 957.5Z"/>
<path class="m" d="M431.6 943.5L445.6 943.5L438.6 957.5Z"/>
<path class="m" d="M438.0 943.5L452.0 943.5L445.0 957.5Z"/>
<path class="m" d="M445.0 943.5L459.0 943.5L452.0 957.5Z"/>
<path class="m" d="M453.0 943.5L467.0 943.5L460.0 957.5Z"/>
<path class="m" d="M460.2 943.5L474.2 943.5L467.2 957.5Z"/>
<path class="m" d="M535.6 620.7L542.7 627.8L535.6 634.9L528.5 627.8Z"/>
<path class="m" d="M536.8 660.9L543.9 668.0L536.8 675.1L529.7 668.0Z"/>
<path class="m" d="M542.0 662.6L549.1 669.7L542.0 676.8L534.9 669.7Z"/>
<path class="m" d="M529.5 665.3L536.6 672.4L529.5 679.5L522.4 672.4Z"/>
<path class="m" d="M538.6 669.9L545.7 677.0L538.6 684.1L531.5 677.0Z"/>
<path class="m" d="M531.0 668.2L538.1 675.3L531.0 682.4L523.9 675.3Z"/>
<path class="m" d="M534.8 720.6L541.9 727.7L534.8 734.8L527.7 727.7Z"/>
<path class="m" d="M536.5 727.2L543.6 734.3L536.5 741.4L529.4 734.3Z"/>
<path class="m" d="M536.4 762.8L543.5 769.9L536.4 777.0L529.3 769.9Z"/>
<path class="m" d="M535.0 772.4L542.1 779.5L535.0 786.6L527.9 779.5Z"/>
<path class="m" d="M538.7 781.6L545.8 788.7L538.7 795.8L531.6 788.7Z"/>
<path class="m" d="M533.0 781.6L540.1 788.7L533.0 795.8L525.9 788.7Z"/>
<path class="m" d="M535.7 789.1L542.8 796.2L535.7 803.3L528.6 796.2Z"/>
<path class="m" d="M537.8 793.5L544.9 800.6L537.8 807.7L530.7 800.6Z"/>
<path class="m" d="M538.7 807.0L545.8 814.1L538.7 821.2L531.6 814.1Z"/>
<path class="m" d="M533.0 814.0L540.1 821.1L533.0 828.2L525.9 821.1Z"/>
<path class="m" d="M540.0 813.2L547.1 820.3L540.0 827.4L532.9 820.3Z"/>
<path class="m" d="M536.5 817.9L543.6 825.0L536.5 832.1L529.4 825.0Z"/>
<path class="m" d="M535.7 818.9L542.8 826.0L535.7 833.1L528.6 826.0Z"/>
<path class="m" d="M536.0 800.9L543.1 808.0L536.0 815.1L528.9 808.0Z"/>
<path class="m" d="M514.0 938.9L521.1 946.0L514.0 953.1L506.9 946.0Z"/>
<path class="m" d="M518.0 938.9L525.1 946.0L518.0 953.1L510.9 946.0Z"/>
<path class="m" d="M522.0 938.9L529.1 946.0L522.0 953.1L514.9 946.0Z"/>
<path class="m" d="M526.0 938.9L533.1 946.0L526.0 953.1L518.9 946.0Z"/>
<path class="m" d="M530.0 938.9L537.1 946.0L530.0 953.1L522.9 946.0Z"/>
<path class="m" d="M534.0 938.9L541.1 946.0L534.0 953.1L526.9 946.0Z"/>
<path class="m" d="M538.0 938.9L545.1 946.0L538.0 953.1L530.9 946.0Z"/>
<path class="m" d="M542.0 938.9L549.1 946.0L542.0 953.1L534.9 946.0Z"/>
<path class="m" d="M546.0 938.9L553.1 946.0L546.0 953.1L538.9 946.0Z"/>
<path class="m" d="M550.0 938.9L557.1 946.0L550.0 953.1L542.9 946.0Z"/>
<path class="m" d="M554.0 938.9L561.1 946.0L554.0 953.1L546.9 946.0Z"/>
<path class="m" d="M558.0 938.9L565.1 946.0L558.0 953.1L550.9 946.0Z"/>
<path class="m" d="M518.0 940.9L525.1 948.0L518.0 955.1L510.9 948.0Z"/>
<path class="m" d="M522.0 940.9L529.1 948.0L522.0 955.1L514.9 948.0Z"/>
<path class="m" d="M526.0 940.9L533.1 948.0L526.0 955.1L518.9 948.0Z"/>
<path class="m" d="M530.0 940.9L537.1 948.0L530.0 955.1L522.9 948.0Z"/>
<path class="m" d="M534.0 940.9L541.1 948.0L534.0 955.1L526.9 948.0Z"/>
<path class="m" d="M538.0 940.9L545.1 948.0L538.0 955.1L530.9 948.0Z"/>
<path class="m" d="M542.0 940.9L549.1 948.0L542.0 955.1L534.9 948.0Z"/>
<path class="m" d="M546.0 940.9L553.1 948.0L546.0 955.1L538.9 948.0Z"/>
<path class="m" d="M550.0 940.9L557.1 948.0L550.0 955.1L542.9 948.0Z"/>
<path class="m" d="M554.0 940.9L561.1 948.0L554.0 955.1L546.9 948.0Z"/>
<path class="m" d="M519.4 943.9L526.5 951.0L519.4 958.1L512.3 951.0Z"/>
<path class="m" d="M537.8 943.9L544.9 951.0L537.8 958.1L530.7 951.0Z"/>
<path class="m" d="M555.2 943.9L562.3 951.0L555.2 958.1L548.1 951.0Z"/>
<circle class="o" cx="623.4" cy="638.7" r="7.0"/>
<circle class="o" cx="619.8" cy="666.6" r="7.0"/>
<circle class="o" cx="622.5" cy="667.0" r="7.0"/>
<circle class="o" cx="622.0" cy="677.0" r="7.0"/>
<circle class="o" cx="626.5" cy="675.5" r="7.0"/>
<circle class="o" cx="622.5" cy="786.0" r="7.0"/>
<circle class="o" cx="624.0" cy="791.0" r="7.0"/>
<circle class="o" cx="621.0" cy="795.0" r="7.0"/>
<circle class="o" cx="625.5" cy="799.0" r="7.0"/>
<circle class="o" cx="622.0" cy="804.0" r="7.0"/>
<circle class="o" cx="626.0" cy="808.0" r="7.0"/>
<circle class="o" cx="623.0" cy="812.0" r="7.0"/>
<circle class="o" cx="620.0" cy="816.0" r="7.0"/>
<circle class="o" cx="626.0" cy="818.0" r="7.0"/>
<circle class="o" cx="623.0" cy="822.0" r="7.0"/>
<circle class="o" cx="619.0" cy="825.0" r="7.0"/>
<circle class="o" cx="626.0" cy="826.0" r="7.0"/>
<circle class="o" cx="622.0" cy="830.0" r="7.0"/>
<circle class="o" cx="618.0" cy="834.0" r="7.0"/>
<circle class="o" cx="627.0" cy="834.0" r="7.0"/>
<circle class="o" cx="613.7" cy="838.5" r="7.0"/>
<circle class="o" cx="632.0" cy="838.0" r="7.0"/>
<circle class="o" cx="622.0" cy="840.0" r="7.0"/>
<circle class="o" cx="616.0" cy="846.0" r="7.0"/>
<circle class="o" cx="628.0" cy="846.0" r="7.0"/>
<circle class="o" cx="614.0" cy="850.0" r="7.0"/>
<circle class="o" cx="622.0" cy="851.0" r="7.0"/>
<circle class="o" cx="630.0" cy="850.0" r="7.0"/>
<circle class="o" cx="601.0" cy="947.0" r="7.0"/>
<circle class="o" cx="601.0" cy="949.5" r="7.0"/>
<circle class="o" cx="604.0" cy="947.0" r="7.0"/>
<circle class="o" cx="604.0" cy="949.5" r="7.0"/>
<circle class="o" cx="607.0" cy="947.0" r="7.0"/>
<circle class="o" cx="607.0" cy="949.5" r="7.0"/>
<circle class="o" cx="610.0" cy="947.0" r="7.0"/>
<circle class="o" cx="610.0" cy="949.5" r="7.0"/>
<circle class="o" cx="613.0" cy="947.0" r="7.0"/>
<circle class="o" cx="613.0" cy="949.5" r="7.0"/>
<circle class="o" cx="616.0" cy="947.0" r="7.0"/>
<circle class="o" cx="616.0" cy="949.5" r="7.0"/>
<circle class="o" cx="619.0" cy="947.0" r="7.0"/>
<circle class="o" cx="619.0" cy="949.5" r="7.0"/>
<circle class="o" cx="622.0" cy="947.0" r="7.0"/>
<circle class="o" cx="622.0" cy="949.5" r="7.0"/>
<circle class="o" cx="625.0" cy="947.0" r="7.0"/>
<circle class="o" cx="625.0" cy="949.5" r="7.0"/>
<circle class="o" cx="628.0" cy="947.0" r="7.0"/>
<circle class="o" cx="628.0" cy="949.5" r="7.0"/>
<circle class="o" cx="631.0" cy="947.0" r="7.0"/>
<circle class="o" cx="631.0" cy="949.5" r="7.0"/>
<circle class="o" cx="634.0" cy="947.0" r="7.0"/>
<circle class="o" cx="634.0" cy="949.5" r="7.0"/>
<circle class="o" cx="637.0" cy="947.0" r="7.0"/>
<circle class="o" cx="637.0" cy="949.5" r="7.0"/>
<circle class="o" cx="640.0" cy="947.0" r="7.0"/>
<circle class="o" cx="640.0" cy="949.5" r="7.0"/>
<circle class="o" cx="643.0" cy="947.0" r="7.0"/>
<circle class="o" cx="643.0" cy="949.5" r="7.0"/>
<circle class="o" cx="646.0" cy="947.0" r="7.0"/>
<circle class="o" cx="646.0" cy="949.5" r="7.0"/>
<circle class="o" cx="604.0" cy="951.5" r="7.0"/>
<circle class="o" cx="615.0" cy="951.5" r="7.0"/>
<circle class="o" cx="628.0" cy="951.5" r="7.0"/>
<circle class="o" cx="643.0" cy="951.5" r="7.0"/>
</g>
</svg>
</body></html>
